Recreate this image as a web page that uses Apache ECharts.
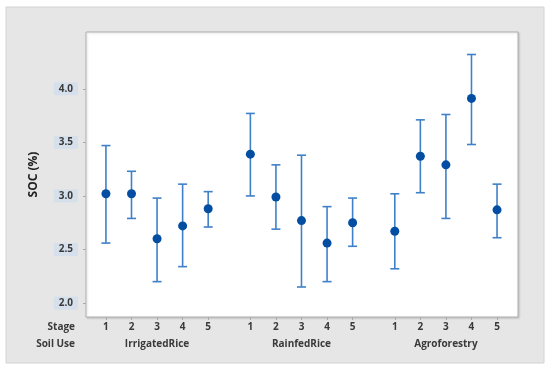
<!DOCTYPE html>
<html>
<head>
<meta charset="utf-8">
<script src="https://cdn.jsdelivr.net/npm/echarts@6/dist/echarts.min.js"></script>
<style>html,body{margin:0;padding:0;background:#fff}#c{width:550px;height:373px}</style>
</head>
<body>
<div id="c"></div>
<script>
const stages = ['1', '2', '3', '4', '5'];
const soilUses = ['IrrigatedRice', 'RainfedRice', 'Agroforestry'];
const yTicks = [2.0, 2.5, 3.0, 3.5, 4.0];
// mean SOC per soil use x stage (row order follows soilUses)
const meanIrrigated = [3.02, 3.02, 2.60, 2.72, 2.88];
const meanRainfed   = [3.39, 2.99, 2.77, 2.56, 2.75];
const meanAgro      = [2.67, 3.37, 3.29, 3.91, 2.87];
const upperIrrigated = [3.47, 3.23, 2.98, 3.11, 3.04];
const upperRainfed   = [3.77, 3.29, 3.38, 2.90, 2.98];
const upperAgro      = [3.02, 3.71, 3.76, 4.32, 3.11];
const lowerIrrigated = [2.56, 2.79, 2.20, 2.34, 2.71];
const lowerRainfed   = [3.00, 2.69, 2.15, 2.20, 2.53];
const lowerAgro      = [2.32, 3.03, 2.79, 3.48, 2.61];

const means = [meanIrrigated, meanRainfed, meanAgro];
const uppers = [upperIrrigated, upperRainfed, upperAgro];
const lowers = [lowerIrrigated, lowerRainfed, lowerAgro];

const groupStep = 5.65;
const pos = [], posLabel = {}, centers = [], centerLabel = {};
const pts = [], bars = [];
soilUses.forEach((g, gi) => {
  stages.forEach((s, si) => {
    const x = +(gi * groupStep + si + 1).toFixed(3);
    pos.push(x); posLabel[x] = s;
    pts.push([x, means[gi][si]]);
    bars.push([x, lowers[gi][si], uppers[gi][si]]);
  });
  const c = +(gi * groupStep + 3).toFixed(3);
  centers.push(c); centerLabel[c] = g;
});

const font = 'Open Sans';
const txt = '#3a3a3a';
const chart = echarts.init(document.getElementById('c'), null, {renderer: 'canvas'});
chart.setOption({
  animation: false,
  backgroundColor: '#ffffff',
  graphic: [
    {type: 'rect', z: -10, shape: {x: 6, y: 7, width: 538, height: 356},
     style: {fill: '#e6e6e6', stroke: '#d2d2d2', lineWidth: 1}},
    {type: 'text', x: 75, y: 327, style: {text: 'Stage', align: 'right', verticalAlign: 'middle',
      font: 'bold 10px "Open Sans"', fill: txt}},
    {type: 'text', x: 75, y: 344, style: {text: 'Soil Use', align: 'right', verticalAlign: 'middle',
      font: 'bold 10px "Open Sans"', fill: txt}}
  ],
  grid: {left: 86, top: 32, width: 432, height: 285, show: true,
         backgroundColor: '#ffffff', borderColor: '#b0b0b0', borderWidth: 1,
         shadowColor: 'rgba(0,0,0,0.15)', shadowBlur: 2, shadowOffsetX: 1, shadowOffsetY: 1},
  xAxis: [
    {type: 'value', min: 0.22, max: 17.12, position: 'bottom',
     axisLine: {show: false}, splitLine: {show: false},
     axisTick: {show: true, customValues: pos, length: 3, lineStyle: {color: '#aaa'}},
     axisLabel: {customValues: pos, formatter: v => posLabel[+(+v).toFixed(3)] || '',
       margin: 5, fontFamily: font, fontWeight: 'bold', fontSize: 10, color: txt}},
    {type: 'value', min: 0.22, max: 17.12, position: 'bottom', offset: 17,
     axisLine: {show: false}, splitLine: {show: false}, axisTick: {show: false},
     axisLabel: {customValues: centers, formatter: v => centerLabel[+(+v).toFixed(3)] || '',
       margin: 5, fontFamily: font, fontWeight: 'bold', fontSize: 10, color: txt}}
  ],
  yAxis: {type: 'value', min: 1.87, max: 4.53,
    name: 'SOC (%)', nameLocation: 'middle', nameGap: 46,
    nameTextStyle: {fontFamily: font, fontWeight: 'bold', fontSize: 12, color: '#222'},
    axisLine: {show: false}, splitLine: {show: false},
    axisTick: {show: true, customValues: yTicks, length: 3, lineStyle: {color: '#aaa'}},
    axisLabel: {customValues: yTicks, formatter: v => (+v).toFixed(1), margin: 8,
      fontFamily: font, fontWeight: 'bold', fontSize: 10, color: txt,
      backgroundColor: '#d6e0ec', padding: [2, 5, 1, 5]}},
  series: [
    {type: 'custom', data: bars, z: 2,
     renderItem: (params, api) => {
       const x = api.value(0);
       const lo = api.coord([x, api.value(1)]);
       const hi = api.coord([x, api.value(2)]);
       const w = 4.5;
       const st = {stroke: '#3f80c8', lineWidth: 1.6};
       return {type: 'group', children: [
         {type: 'line', shape: {x1: hi[0], y1: hi[1], x2: lo[0], y2: lo[1]}, style: st},
         {type: 'line', shape: {x1: hi[0] - w, y1: hi[1], x2: hi[0] + w, y2: hi[1]}, style: st},
         {type: 'line', shape: {x1: lo[0] - w, y1: lo[1], x2: lo[0] + w, y2: lo[1]}, style: st}
       ]};
     }},
    {type: 'scatter', data: pts, symbol: 'circle', symbolSize: 9, z: 3,
     itemStyle: {color: '#034ea2', opacity: 1}}
  ]
});
</script>
</body>
</html>
